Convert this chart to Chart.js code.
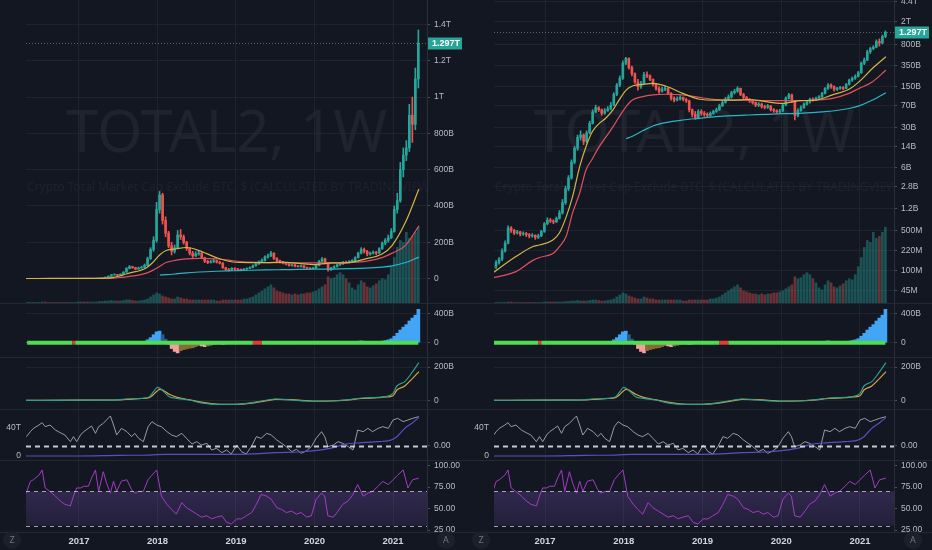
<!DOCTYPE html>
<html><head><meta charset="utf-8">
<script src="https://cdn.jsdelivr.net/npm/chart.js@4.4.1/dist/chart.umd.min.js"></script>
<style>
html,body{margin:0;padding:0;background:#131722;width:932px;height:550px;overflow:hidden;font-family:'Noto Sans',sans-serif;}
.half{position:absolute;top:0;width:466px;height:550px;}
.wm{position:absolute;white-space:nowrap;color:rgba(180,186,204,0.075);z-index:1;overflow:hidden;}
.sep{position:absolute;left:0;width:466px;height:1px;background:#242833;z-index:3;}
.btn{position:absolute;width:18px;height:18px;border-radius:50%;background:#1c202b;color:#6f7380;font-size:9px;line-height:18px;text-align:center;z-index:3;}
</style></head><body>
<div id="L" class="half" style="left:0"></div>
<div id="R" class="half" style="left:466px"></div>
<script>
// ---------- DATA (values in billions USD unless noted) ----------
const candleStart = 2016.34;          // first bi-weekly candle (decimal year)
const candleStep = 14 / 365.25;       // two weeks
const firstOpen = 0.11;
const closes = [
 0.12,0.14,0.16,0.22,0.30,0.55,0.50,0.45,0.47,0.43,
 0.44,0.42,0.40,0.41,0.38,0.40,0.48,0.65,0.75,0.72,
 0.70,0.80,1.0,1.5,2.6,4.0,7.5,13,20,22,
 17,24,35,55,65,60,52,58,62,72,
 110,160,210,380,460,320,250,180,150,170,
 240,230,200,165,140,125,135,140,115,95,
 88,92,98,90,85,60,50,44,56,52,
 50,48,52,56,60,70,80,92,100,118,
 125,140,110,98,90,85,80,72,75,68,
 66,70,60,58,55,57,72,95,108,85,
 48,58,65,75,82,90,88,95,100,115,
 140,160,150,135,140,145,140,165,195,210,
 225,260,380,430,600,680,720,900,850,1100,
 1297];
const highs = [
 0.13,0.15,0.17,0.24,0.33,0.6,0.58,0.52,0.5,0.48,
 0.47,0.46,0.44,0.44,0.42,0.43,0.5,0.68,0.82,0.8,
 0.76,0.85,1.1,1.7,2.9,4.4,8.2,14,22,26,
 23,26,38,60,72,68,62,63,68,80,
 118,170,230,420,480,470,340,260,200,185,
 265,270,240,205,170,150,148,155,145,118,
 100,100,105,100,95,88,62,56,60,60,
 56,53,55,59,64,75,85,98,108,125,
 135,150,142,115,102,94,88,82,80,78,
 72,74,71,63,60,61,76,100,115,112,
 86,62,70,79,86,95,96,99,105,120,
 145,170,168,155,146,152,150,170,202,220,
 240,275,400,470,640,720,760,960,1000,1160,
 1370];
const lows = [
 0.1,0.11,0.13,0.15,0.21,0.29,0.46,0.42,0.43,0.4,
 0.41,0.39,0.37,0.38,0.35,0.36,0.39,0.46,0.62,0.68,
 0.65,0.68,0.78,0.95,1.4,2.4,3.8,7.0,12,18,
 15,16,23,34,53,56,48,50,56,60,
 70,105,150,200,360,300,230,170,130,140,
 165,215,190,155,130,115,120,128,110,88,
 82,85,88,85,80,55,45,41,43,48,
 46,45,46,50,54,58,68,78,88,95,
 112,120,105,92,86,80,75,68,68,64,
 62,63,57,54,52,53,56,70,92,80,
 40,45,56,63,72,78,84,86,92,98,
 112,135,140,125,128,135,132,138,160,185,
 200,220,255,360,420,560,650,700,750,820,
 1050];
const volumes = [
 0.5,0.5,0.5,0.5,0.5,1,1,0.5,0.5,0.5,
 0.5,0.5,0.5,0.5,0.5,0.5,0.5,1,1,1,
 1,1,1,1,1.5,1.5,2,2,2.5,2,
 2,2,2.5,3,3,2.5,2,2,2.5,3,
 4,6,8,10,9,7,6,5,4,4,
 6,5,4,4,3,3,3,3,3,3,
 3,3,3,2,2,3,3,3,3,3,
 3,3,4,4,5,6,8,10,12,14,
 16,18,15,12,11,10,9,9,8,9,
 8,9,9,10,10,11,12,14,16,18,
 26,24,25,28,30,28,24,20,15,13,
 18,22,20,16,15,17,19,22,24,23,
 28,36,45,55,62,60,70,64,66,70,
 75];
const volumeAxisMax = 300;
const histValues = [
 0,0,0,1,1,2,2,1,1,0,
 0,0,-1,-1,0,0,1,2,2,2,
 1,1,1,2,3,4,5,6,8,8,
 6,8,10,14,18,15,10,10,12,18,
 40,70,110,150,160,110,50,-20,-80,-120,
 -140,-110,-95,-85,-75,-70,-55,-40,-45,-55,
 -45,-35,-25,-20,-18,-22,-18,-12,-5,-3,
 -2,-1,0,1,2,3,5,8,12,15,
 18,16,10,5,0,-5,-10,-14,-12,-10,
 -8,-6,-5,-4,-3,-2,1,3,5,2,
 -5,-4,-2,0,2,4,5,7,10,15,
 20,25,22,15,12,10,10,14,22,30,
 40,55,90,130,175,215,250,300,340,380,
 460];
const squeezeIdx = [15,75,76,77];

const maX = [2016.30,2016.63,2016.84,2016.93,2017.10,2017.18,2017.27,2017.35,2017.44,2017.52,2017.60,2017.69,2017.77,2017.86,2017.94,2018.03,2018.11,2018.24,2018.37,2018.53,2018.75,2018.96,2019.17,2019.38,2019.59,2019.80,2020.01,2020.23,2020.44,2020.65,2020.86,2020.99,2021.16,2021.33];
const maYellow = [0.085,0.176,0.261,0.279,0.341,0.444,0.86,1.9,6.25,13.8,25,35,42.7,59,88,131,154,164,171,154,115,91,88,88,90,83,77,86,88,108,135,183,311,493];
const maRed = [0.074,0.097,0.15,0.17,0.2,0.26,0.40,1.0,2.2,5.5,8.5,14,20,30,45,68,88,101,108,111,108,98,90,88,88,86,86,86,88,94,115,140,183,290];
const maCyan = [null,null,null,null,null,null,null,null,null,null,null,null,null,null,null,19,21,26,31.5,35.9,39.9,42.7,45.5,47.4,48.7,49.9,51.3,52,54,57,63,70,88,118];

const macdX = [2016.30,2017.0,2017.5,2017.6,2017.8,2017.9,2017.95,2018.0,2018.03,2018.08,2018.15,2018.25,2018.4,2018.6,2018.75,2019.0,2019.2,2019.4,2019.5,2019.7,2019.9,2020.0,2020.2,2020.4,2020.6,2020.8,2020.9,2021.0,2021.05,2021.15,2021.25,2021.33];
const macdLine = [0,1,3,8,12,22,52,78,72,52,22,12,2,-18,-24,-24,-14,2,8,2,-4,-6,-4,2,14,18,22,42,86,112,172,226];
const macdSignal = [0,1,2,6,11,18,35,58,66,58,36,18,4,-14,-22,-24,-17,-2,6,4,-2,-5,-4,1,11,16,20,28,62,86,132,172];

const obvX = [2016.30,2017.0,2017.5,2017.9,2018.1,2018.5,2019.0,2019.3,2019.5,2019.8,2020.0,2020.2,2020.4,2020.6,2020.8,2020.95,2021.05,2021.15,2021.25,2021.33];
const obvValues = [0,0,1,1.4,2.4,2.4,2.4,3.3,4.8,5.7,7.6,11,17,19,20.5,22,27.6,39.5,47.6,55.2]; // trillions

const oscX = [2016.33,2016.38,2016.42,2016.49,2016.53,2016.57,2016.63,2016.70,2016.76,2016.82,
 2016.89,2016.93,2016.97,2017.02,2017.06,2017.12,2017.16,2017.21,2017.25,2017.31,
 2017.35,2017.40,2017.44,2017.48,2017.54,2017.61,2017.67,2017.71,2017.76,2017.82,
 2017.88,2017.93,2017.99,2018.05,2018.12,2018.18,2018.24,2018.31,2018.37,2018.44,
 2018.50,2018.56,2018.63,2018.69,2018.75,2018.82,2018.88,2018.94,2019.01,2019.07,
 2019.13,2019.20,2019.26,2019.32,2019.39,2019.45,2019.52,2019.58,2019.64,2019.71,
 2019.77,2019.83,2019.90,2019.96,2020.02,2020.09,2020.13,2020.17,2020.24,2020.30,
 2020.36,2020.43,2020.49,2020.55,2020.62,2020.68,2020.74,2020.81,2020.87,2020.94,
 2021.00,2021.06,2021.13,2021.19,2021.25,2021.33];
const oscValues = [0.27,0.42,0.52,0.62,0.69,0.57,0.62,0.47,0.39,0.32,
 0.12,0.27,0.12,0.32,0.42,0.52,0.59,0.37,0.57,0.67,
 0.77,0.89,0.62,0.32,0.52,0.42,0.27,0.37,0.22,0.12,
 0.57,0.72,0.62,0.57,0.42,0.32,0.27,0.37,0.22,0.05,
 0.12,0.02,0.07,-0.13,-0.08,-0.21,-0.13,-0.25,0.02,-0.18,
 -0.25,-0.01,0.27,0.22,0.37,0.32,0.17,0.07,-0.03,-0.18,
 -0.11,-0.23,-0.15,-0.03,0.22,0.42,0.27,-0.03,0.02,0.12,
 0.07,-0.03,-0.13,0.47,0.42,0.52,0.42,0.52,0.57,0.52,
 0.77,0.82,0.72,0.77,0.82,0.87];
const rsiValues = [68,81.7,83.6,89,95,74,70,64.5,59,55,
 53,64.5,74,74,76,76,85.5,95,70,93,
 80,68,82,70,82,83.6,72,68,70,70,
 83.6,89,95,64.5,55,49,43.5,57,51,47,
 43.5,40,41.6,38,40,41.6,34,32,38,38,
 41.6,45.4,55,66.4,64.5,60.7,51,49,45.4,47,
 43.5,45.4,40,41.6,60.7,68,64.5,41.6,40,47,
 55,59,66.4,78,64.5,68,70,76,81.7,78,
 83.6,89,95,74,83.6,85.5];

const yearTicks = [2017,2018,2019,2020,2021];
const linTicks = [0,200,400,600,800,1000,1200,1400];
const linLabels = ['0','200B','400B','600B','800B','1T','1.2T','1.4T'];
const logTicks = [0.045,0.1,0.22,0.5,1.2,2.8,6,14,30,70,150,350,800,2000,4400];
const logLabels = ['45M','100M','220M','500M','1.2B','2.8B','6B','14B','30B','70B','150B','350B','800B','2T','4.4T'];
const histTicks = [0,400], histLabels = ['0','400B'];
const macdTicks = [0,200], macdLabels = ['0','200B'];
const oscTicks = [0], oscLabels = ['0.00'];
const obvTicks = [0,40], obvLabels = ['0','40T'];
const rsiTicks = [25,50,75,100], rsiLabels = ['25.00','50.00','75.00','100.00'];
const rsiBands = [70,30];
const lastPriceLabel = '1.297T';
const symbolTitle = 'TOTAL2, 1W';
const symbolDesc = 'Crypto Total Market Cap Exclude BTC, $ (CALCULATED BY TRADINGVIEW)';

// ---------- STYLE ----------
const TXT = '#b8bbc4', GRID = 'rgba(42,46,57,0.55)', BORDER = '#2a2e39';
const UP = '#26a69a', DN = '#ef5350';
const AXFONT = {size:8.5, family:"'Liberation Sans', sans-serif"};
Chart.defaults.font.family = "'Liberation Sans', sans-serif";
Chart.defaults.font.size = 9;
Chart.defaults.color = TXT;

const candleX = closes.map((c, i) => candleStart + i * candleStep);
const opens = closes.map((c, i) => i ? closes[i - 1] : firstOpen);
const isUp = closes.map((c, i) => c >= opens[i]);

function zeroPad(s){ s.paddingTop = 0; s.paddingBottom = 0; s.paddingLeft = 0; s.paddingRight = 0; }

function xScale(h, show){
  return {type:'linear', min:h.xMin, max:h.xMax, offset:false,
    afterBuildTicks: s => { s.ticks = yearTicks.map(v => ({value:v})); },
    ticks:{display:show, color:'#d1d4dc', padding:4, maxRotation:0, autoSkip:false, font:{size:9.5, weight:'bold', family:"'Liberation Sans', sans-serif"}, callback:v => String(v)},
    grid:{color:GRID, drawTicks:false, offset:false},
    border:{display:false},
    afterFit: s => { s.height = show ? 18 : 0; zeroPad(s); }
  };
}
function yRight(h, type, min, max, ticks, labels, gridOn){
  return {type, position:'right', min, max,
    afterBuildTicks: s => { s.ticks = ticks.map(v => ({value:v})); },
    ticks:{color:TXT, padding:4, autoSkip:false, font:AXFONT, callback:(v, i) => labels[i]},
    grid:{color: GRID, drawOnChartArea: gridOn, tickColor:'#4a4e5a', tickLength:3},
    border:{display:true, color:BORDER},
    afterFit: s => { s.width = h.axisW; zeroPad(s); }
  };
}

const levelsPlugin = {
  id:'levels',
  beforeDatasetsDraw(chart, args, o){
    if (!o || !o.fill) return;
    const s = chart.scales[o.axis], a = chart.chartArea, ctx = chart.ctx;
    const y1 = s.getPixelForValue(o.fill[0]), y2 = s.getPixelForValue(o.fill[1]);
    const g = ctx.createLinearGradient(0, y1, 0, y2);
    g.addColorStop(0, 'rgba(126,87,194,0.28)'); g.addColorStop(1, 'rgba(126,87,194,0.14)');
    ctx.save(); ctx.fillStyle = g; ctx.fillRect(a.left, y1, a.right - a.left, y2 - y1); ctx.restore();
  },
  afterDatasetsDraw(chart, args, o){
    if (!o || !o.lines) return;
    const s = chart.scales[o.axis], a = chart.chartArea, ctx = chart.ctx;
    ctx.save(); ctx.strokeStyle = o.color; ctx.lineWidth = o.width; ctx.setLineDash(o.dash);
    o.lines.forEach(v => { const y = Math.round(s.getPixelForValue(v)) + 0.5; ctx.beginPath(); ctx.moveTo(a.left, y); ctx.lineTo(a.right, y); ctx.stroke(); });
    ctx.restore();
  }
};
const lastPricePlugin = {
  id:'lastPrice',
  afterDraw(chart){
    const s = chart.scales.y, a = chart.chartArea, ctx = chart.ctx;
    const y = Math.round(s.getPixelForValue(closes[closes.length - 1])) + 0.5;
    ctx.save();
    ctx.strokeStyle = 'rgba(120,170,165,0.55)'; ctx.lineWidth = 1; ctx.setLineDash([1, 2]);
    ctx.beginPath(); ctx.moveTo(a.left, y); ctx.lineTo(a.right, y); ctx.stroke();
    ctx.setLineDash([]);
    ctx.fillStyle = '#26a69a'; ctx.fillRect(a.right + 1, y - 6, 34, 12);
    ctx.fillStyle = '#ffffff'; ctx.font = "bold 9px 'Liberation Sans', sans-serif"; ctx.textBaseline = 'middle'; ctx.textAlign = 'left';
    ctx.fillText(lastPriceLabel, a.right + 5, y + 0.5);
    ctx.restore();
  }
};

function makeCanvas(root, top, h, w){
  const c = document.createElement('canvas');
  c.width = w; c.height = h;
  c.style.cssText = 'position:absolute;left:0;top:' + top + 'px;width:' + w + 'px;height:' + h + 'px;z-index:2;';
  root.appendChild(c);
  return c;
}
function div(root, cls, css, text){
  const d = document.createElement('div'); d.className = cls; d.style.cssText = css; if (text) d.textContent = text; root.appendChild(d); return d;
}
const base = (h) => ({responsive:false, animation:false, events:[],
  layout:{padding:{left:h.padL, right:0, top:0, bottom:0}},
  plugins:{legend:{display:false}, tooltip:{enabled:false}}});

function build(h){
  const root = document.getElementById(h.el);
  const W = 466, plotW = W - h.padL - h.axisW;
  div(root, 'wm', 'left:' + h.padL + 'px;top:101px;width:' + plotW + 'px;height:70px;font-size:58px;line-height:58px;text-align:center;', symbolTitle);
  div(root, 'wm', 'left:' + h.padL + 'px;top:181px;width:' + plotW + 'px;height:18px;font-size:12px;line-height:12px;text-align:left;padding-left:1px;', symbolDesc);

  // main pane
  const mainY = h.log
    ? yRight(h, 'logarithmic', 0.0279, 4680, logTicks, logLabels, true)
    : yRight(h, 'linear', -135, 1535, linTicks, linLabels, true);
  const maDs = (vals, color) => ({type:'line', data: maX.map((x, i) => ({x, y: vals[i]})), borderColor: color, borderWidth: 1.2, pointRadius: 0, cubicInterpolationMode: 'monotone', order: 1, yAxisID: 'y'});
  new Chart(makeCanvas(root, 0, 303, W), {
    type:'bar',
    data:{datasets:[
      maDs(maYellow, '#d2b545'), maDs(maRed, '#e0515c'), maDs(maCyan, '#29b6c4'),
      {type:'bar', data: candleX.map((x, i) => ({x, y:[opens[i], closes[i]]})), backgroundColor: isUp.map(u => u ? UP : DN), barThickness: 2, grouped: false, order: 2, yAxisID: 'y'},
      {type:'bar', data: candleX.map((x, i) => ({x, y:[lows[i], highs[i]]})), backgroundColor: isUp.map(u => u ? UP : DN), barThickness: 1, grouped: false, order: 3, yAxisID: 'y'},
      {type:'bar', data: candleX.map((x, i) => ({x, y: volumes[i]})), backgroundColor: isUp.map(u => u ? 'rgba(38,166,154,0.42)' : 'rgba(239,83,80,0.42)'), barThickness: 2, grouped: false, order: 4, yAxisID: 'yv'}
    ]},
    options: Object.assign(base(h), {scales:{x: xScale(h, false), y: mainY, yv:{display:false, min:0, max:volumeAxisMax}}}),
    plugins:[lastPricePlugin]
  });

  // squeeze histogram pane
  const sq = new Set(squeezeIdx);
  const histColors = histValues.map((v, i) => {
    const p = i ? histValues[i - 1] : 0;
    if (v >= 0) return v >= p ? '#42a5f5' : '#2b5d8c';
    return v <= p ? '#f4a09c' : '#8c6b3a';
  });
  new Chart(makeCanvas(root, 303, 54, W), {
    type:'bar',
    data:{datasets:[
      {type:'line', data: candleX.map(x => ({x, y:0})), borderWidth: 4, pointRadius: 0, borderCapStyle:'butt', order: 1,
        borderColor:'#4fdc4f', segment:{borderColor: c => sq.has(c.p0DataIndex) ? '#e53935' : '#4fdc4f'}},
      {type:'bar', data: candleX.map((x, i) => ({x, y: histValues[i]})), backgroundColor: histColors, barThickness: 3, grouped: false, order: 2}
    ]},
    options: Object.assign(base(h), {scales:{x: xScale(h, false), y: yRight(h, 'linear', -197, 548, histTicks, histLabels, true)}})
  });

  // MACD lines pane
  new Chart(makeCanvas(root, 357, 52, W), {
    type:'line',
    data:{datasets:[
      {data: macdX.map((x, i) => ({x, y: macdLine[i]})), borderColor:'#2e9d8c', borderWidth: 1.2, pointRadius: 0, cubicInterpolationMode:'monotone'},
      {data: macdX.map((x, i) => ({x, y: macdSignal[i]})), borderColor:'#d9a441', borderWidth: 1.2, pointRadius: 0, cubicInterpolationMode:'monotone'}
    ]},
    options: Object.assign(base(h), {scales:{x: xScale(h, false), y: yRight(h, 'linear', -52, 260, macdTicks, macdLabels, true)}})
  });

  // oscillator pane (left axis in T)
  const oscOpts = base(h); oscOpts.layout.padding.left = 0;
  oscOpts.plugins.levels = {axis:'y', lines: oscTicks, color:'rgba(230,232,238,0.85)', width: 2, dash:[5,4]};
  oscOpts.scales = {
    x: xScale(h, false),
    y: yRight(h, 'linear', -0.43, 1.10, oscTicks, oscLabels, false),
    yl: {type:'linear', position:'left', min:-5.7, max:67.1,
      afterBuildTicks: s => { s.ticks = obvTicks.map(v => ({value:v})); },
      ticks:{color:TXT, padding:5, autoSkip:false, font:AXFONT, callback:(v, i) => obvLabels[i]},
      grid:{display:false, drawTicks:false}, border:{display:false},
      afterFit: s => { s.width = h.padL; zeroPad(s); }}
  };
  new Chart(makeCanvas(root, 409, 51, W), {
    type:'line',
    data:{datasets:[
      {data: obvX.map((x, i) => ({x, y: obvValues[i]})), yAxisID:'yl', borderColor:'#5a4fc0', borderWidth: 1.2, pointRadius: 0, cubicInterpolationMode:'monotone'},
      {data: oscX.map((x, i) => ({x, y: oscValues[i]})), yAxisID:'y', borderColor:'rgba(175,178,188,0.85)', borderWidth: 1, pointRadius: 0}
    ]},
    options: oscOpts,
    plugins:[levelsPlugin]
  });

  // RSI pane with time axis
  const rsiOpts = base(h);
  rsiOpts.plugins.levels = {axis:'y', fill: rsiBands, lines: rsiBands, color:'rgba(210,212,220,0.75)', width: 1, dash:[4,4]};
  rsiOpts.scales = {x: xScale(h, true), y: yRight(h, 'linear', 22.7, 106.6, rsiTicks, rsiLabels, false)};
  new Chart(makeCanvas(root, 460, 90, W), {
    type:'line',
    data:{datasets:[
      {data: oscX.map((x, i) => ({x, y: rsiValues[i]})), borderColor:'#a33cc4', borderWidth: 1, pointRadius: 0}
    ]},
    options: rsiOpts,
    plugins:[levelsPlugin]
  });

  [303, 357, 409, 460, 532].forEach(y => { div(root, 'sep', 'top:' + y + 'px;'); });
  div(root, 'btn', 'left:' + (h.zX - 9) + 'px;top:531px;', 'Z');
  div(root, 'btn', 'left:' + (h.aX - 9) + 'px;top:531px;', 'A');
}

build({el:'L', padL:26, axisW:39, xMin:2016.325, xMax:2021.433, log:false, zX:12, aX:446});
build({el:'R', padL:28, axisW:38, xMin:2016.352, xMax:2021.432, log:true, zX:15, aX:447});
</script>
</body></html>
